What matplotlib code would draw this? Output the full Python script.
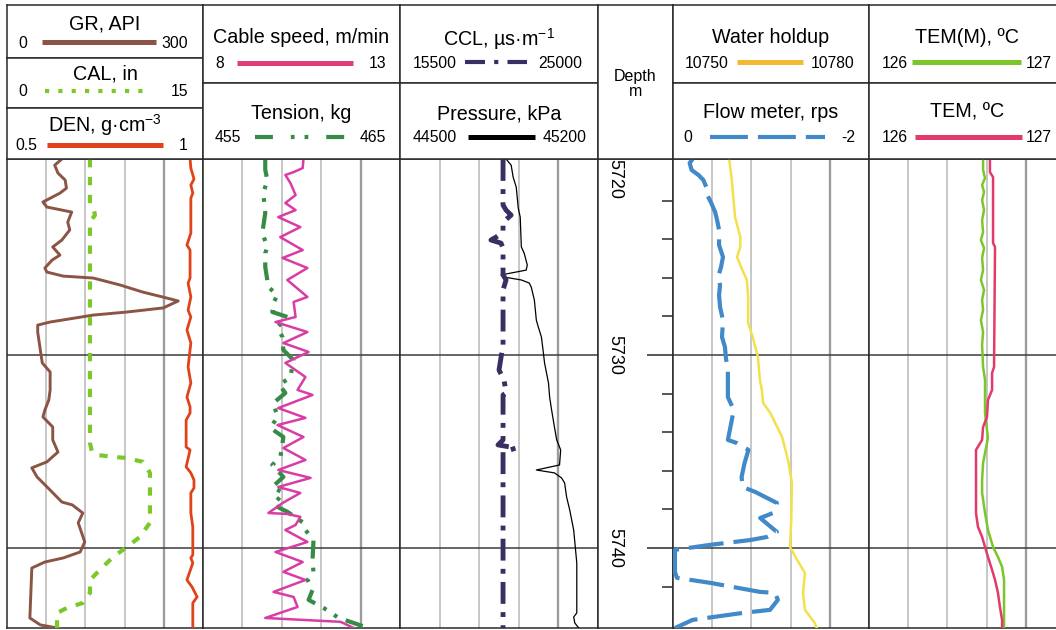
import matplotlib.pyplot as plt

plt.rcParams['font.family'] = ['Liberation Sans', 'DejaVu Sans']
plt.rcParams['mathtext.default'] = 'regular'

# ---- log data (depth in m) ----
gr_depth = [5719.84, 5720.16, 5720.57, 5720.93, 5721.35, 5721.61, 5722.07, 5722.33, 5722.59, 5723.11,
            5723.52, 5724.04, 5724.40, 5724.82, 5725.08, 5725.49, 5725.70, 5725.91, 5726.01, 5726.37,
            5726.74, 5727.05, 5727.20, 5727.56, 5727.77, 5727.93, 5728.29, 5728.45, 5728.81, 5729.74,
            5730.41, 5730.88, 5731.81, 5732.33, 5732.85, 5733.21, 5733.73, 5734.40, 5735.03, 5735.54,
            5735.85, 5736.32, 5737.00, 5737.62, 5737.77, 5738.19, 5738.70, 5739.69, 5740.21, 5740.52,
            5740.73, 5741.04, 5743.63, 5743.99, 5744.15]
gr_val = [84, 73, 78, 89, 91, 81, 55, 61, 99, 93, 96, 84, 70, 81, 69, 58, 61, 86, 132, 173,
          208, 245, 262, 239, 184, 132, 66, 47, 47, 51, 54, 66, 66, 64, 58, 55, 70, 70, 78, 61,
          38, 46, 66, 84, 100, 116, 109, 119, 112, 86, 58, 38, 35, 51, 77]

cal_depth = [5719.84, 5722.23, 5722.49, 5722.75, 5723.11, 5734.56, 5735.03, 5735.18, 5735.28, 5735.34,
             5735.54, 5736.11, 5738.70, 5738.91, 5739.43, 5739.95, 5740.47, 5741.14, 5741.66, 5742.33,
             5742.85, 5743.11, 5743.37, 5744.15]
cal_val = [6.35, 6.35, 6.66, 6.73, 6.35, 6.35, 6.50, 6.89, 8.11, 9.18, 10.40, 10.94, 10.94, 10.71,
           10.17, 9.18, 8.11, 7.11, 6.35, 6.35, 5.81, 4.59, 3.83, 3.83]

den_depth = [5719.84, 5720.31, 5720.88, 5721.19, 5721.61, 5721.87, 5723.68, 5724.30, 5724.56, 5726.01,
             5726.27, 5726.99, 5727.67, 5728.03, 5728.70, 5729.38, 5730.62, 5731.45, 5732.18, 5732.69,
             5733.01, 5733.37, 5734.77, 5734.92, 5735.80, 5736.11, 5736.48, 5736.89, 5737.15, 5738.19,
             5738.91, 5740.36, 5740.52, 5740.78, 5741.66, 5742.02, 5742.54, 5742.85, 5744.15]
den_val = [0.967, 0.969, 0.977, 0.969, 0.974, 0.969, 0.969, 0.959, 0.967, 0.967,
           0.962, 0.969, 0.962, 0.969, 0.959, 0.969, 0.962, 0.969, 0.959, 0.967,
           0.967, 0.957, 0.957, 0.967, 0.957, 0.969, 0.977, 0.977, 0.969, 0.969,
           0.974, 0.974, 0.969, 0.974, 0.959, 0.972, 0.985, 0.974, 0.974]

speed_depth = [5719.84, 5720.31, 5720.52, 5720.67, 5721.09, 5721.71, 5722.12, 5722.49, 5722.85, 5723.37,
               5723.89, 5724.56, 5724.97, 5725.49, 5726.11, 5726.99, 5727.25, 5728.03, 5728.29, 5728.81,
               5729.38, 5729.84, 5730.41, 5731.14, 5731.81, 5732.07, 5732.75, 5733.26, 5733.63, 5734.25,
               5734.82, 5735.44, 5735.96, 5736.37, 5736.84, 5737.15, 5737.67, 5738.19, 5738.24, 5738.39,
               5738.81, 5739.07, 5739.69, 5740.21, 5740.73, 5741.24, 5741.66, 5742.28, 5742.54, 5743.06,
               5743.63, 5743.83, 5744.15]
speed_val = [10.55, 10.53, 10.30, 10.09, 10.22, 10.35, 10.09, 10.35, 9.91, 10.47,
             9.96, 10.53, 10.02, 10.65, 10.14, 10.65, 10.30, 10.35, 9.84, 10.65,
             10.04, 10.68, 10.09, 10.60, 10.40, 10.78, 9.91, 10.60, 9.89, 10.55,
             10.04, 10.60, 9.91, 10.73, 9.91, 10.47, 10.02, 9.66, 10.14, 10.47,
             10.35, 10.09, 10.65, 9.84, 10.53, 10.04, 10.60, 9.79, 10.30, 10.40,
             9.58, 11.49, 11.83]

tension_depth = [5719.84, 5720.41, 5720.93, 5721.61, 5722.64, 5723.68, 5724.40, 5724.72, 5725.44, 5726.48,
                 5726.89, 5727.31, 5727.77, 5728.03, 5728.55, 5729.07, 5729.74, 5730.26, 5731.14, 5731.55,
                 5731.97, 5732.49, 5733.21, 5733.78, 5734.25, 5735.28, 5735.70, 5736.32, 5736.84, 5737.15,
                 5737.77, 5738.13, 5738.70, 5739.07, 5739.59, 5740.62, 5741.30, 5741.66, 5742.18, 5742.69,
                 5743.11, 5743.63, 5743.89, 5744.15]
tension_val = [458.16, 458.16, 458.27, 458.06, 458.16, 458.01, 458.27, 458.16, 458.16, 458.32,
               458.78, 458.57, 458.52, 459.29, 458.78, 459.03, 459.08, 459.59, 459.44, 458.88,
               459.18, 458.57, 458.78, 458.42, 459.08, 458.93, 458.52, 459.08, 458.52, 459.08,
               458.57, 459.29, 460.10, 460.20, 460.61, 460.56, 460.61, 460.31, 460.56, 460.36,
               461.12, 461.89, 462.65, 463.37]

ccl_depth = [5719.84, 5722.23, 5722.49, 5722.75, 5723.11, 5723.63, 5723.89, 5724.04, 5724.20, 5724.46,
             5725.85, 5726.11, 5726.63, 5729.48, 5730.78, 5731.30, 5731.97, 5732.07, 5734.40, 5734.66,
             5734.82, 5735.03, 5744.15]
ccl_val = [20444, 20444, 20590, 20832, 20444, 20444, 20105, 19862, 20347, 20444,
           20444, 20590, 20444, 20444, 20250, 20493, 20590, 20444, 20444, 20202,
           21074, 20444, 20444]

pres_depth = [5719.84, 5720.16, 5720.78, 5721.30, 5722.38, 5722.85, 5724.40, 5724.72, 5725.34, 5725.60,
              5725.85, 5725.96, 5726.11, 5726.27, 5726.48, 5727.15, 5728.19, 5728.55, 5729.07, 5729.90,
              5730.41, 5731.45, 5732.18, 5732.85, 5733.73, 5734.40, 5734.92, 5735.70, 5735.96, 5736.11,
              5736.37, 5736.63, 5737.36, 5738.03, 5739.07, 5740.78, 5743.37, 5743.58, 5743.89, 5744.15]
pres_val = [44875, 44893, 44900, 44911, 44918, 44925, 44929, 44939, 44950, 44946,
            44857, 44868, 44929, 44957, 44964, 44975, 44982, 44989, 45000, 45007,
            45011, 45025, 45029, 45036, 45046, 45054, 45068, 45064, 44982, 45046,
            45071, 45082, 45089, 45100, 45114, 45125, 45125, 45114, 45118, 45132]

holdup_depth = [5719.84, 5720.93, 5722.85, 5723.89, 5724.40, 5724.92, 5725.34, 5726.11, 5726.99, 5728.34,
                5729.07, 5730.10, 5731.30, 5731.81, 5732.49, 5733.01, 5734.25, 5735.44, 5736.63, 5738.55,
                5739.95, 5740.62, 5741.30, 5742.33, 5743.21, 5743.89, 5744.15]
holdup_val = [10758.6, 10759.0, 10759.5, 10760.3, 10760.3, 10759.8, 10760.3, 10761.3, 10761.5, 10761.5,
              10762.2, 10763.0, 10763.3, 10763.6, 10763.8, 10764.9, 10766.7, 10767.6, 10768.2, 10768.1,
              10767.9, 10769.0, 10770.2, 10769.9, 10770.2, 10771.7, 10772.0]

flow_depth = [5719.84, 5720.05, 5720.41, 5720.67, 5720.93, 5721.30, 5721.61, 5722.12, 5722.59, 5723.01,
              5723.52, 5724.30, 5724.92, 5725.44, 5725.96, 5726.37, 5726.89, 5727.51, 5728.19, 5729.07,
              5729.59, 5730.16, 5730.78, 5731.81, 5732.18, 5732.85, 5733.37, 5733.89, 5734.40, 5734.56,
              5734.92, 5735.60, 5736.32, 5736.84, 5737.10, 5737.67, 5738.19, 5738.45, 5739.17, 5739.43,
              5739.59, 5739.84, 5740.10, 5740.62, 5741.24, 5741.55, 5741.81, 5742.28, 5742.33, 5742.69,
              5743.21, 5743.37, 5743.73, 5744.15]
flow_val = [-0.20, -0.17, -0.19, -0.26, -0.31, -0.34, -0.34, -0.39, -0.43, -0.45,
            -0.47, -0.47, -0.51, -0.49, -0.46, -0.48, -0.47, -0.48, -0.51, -0.50,
            -0.53, -0.54, -0.56, -0.56, -0.56, -0.62, -0.60, -0.58, -0.56, -0.65,
            -0.77, -0.73, -0.70, -0.71, -0.84, -1.06, -1.02, -0.89, -1.06, -0.96,
            -0.79, -0.38, -0.02, -0.02, -0.02, -0.04, -0.38, -0.89, -1.04, -1.07,
            -0.99, -0.71, -0.20, -0.02]

temm_depth = [5719.84, 5720.41, 5720.83, 5721.19, 5721.55, 5721.97, 5722.49, 5723.01, 5723.63, 5724.04,
              5724.46, 5724.97, 5725.60, 5726.11, 5726.63, 5727.15, 5727.67, 5728.19, 5728.81, 5729.48,
              5730.62, 5731.30, 5733.01, 5734.30, 5735.60, 5736.48, 5737.15, 5738.19, 5739.07, 5739.95,
              5740.47, 5740.98, 5741.66, 5744.15]
temm_val = [126.582, 126.582, 126.592, 126.577, 126.587, 126.577, 126.587, 126.577, 126.582, 126.571,
            126.587, 126.577, 126.582, 126.571, 126.587, 126.577, 126.582, 126.571, 126.582, 126.577,
            126.582, 126.592, 126.592, 126.607, 126.582, 126.577, 126.577, 126.592, 126.607, 126.633,
            126.658, 126.679, 126.689, 126.689]

tem_depth = [5719.84, 5720.52, 5720.78, 5724.20, 5724.40, 5730.62, 5730.93, 5731.81, 5732.33, 5733.21,
             5733.73, 5734.40, 5734.92, 5738.19, 5738.91, 5739.43, 5739.95, 5740.47, 5741.14, 5741.66,
             5742.33, 5743.06, 5743.73, 5744.15]
tem_val = [126.617, 126.617, 126.633, 126.633, 126.643, 126.638, 126.628, 126.628, 126.607, 126.602,
           126.582, 126.577, 126.546, 126.546, 126.556, 126.577, 126.592, 126.607, 126.628, 126.643,
           126.658, 126.668, 126.679, 126.679]

depth_labels = [5720, 5730, 5740]

# ---- layout (pixels) ----
W, H = 1056, 630
TOP, HEAD_BOT, BOT = 5, 159, 628
D_TOP, D_BOT = 5719.84, 5744.15
EDGE = '#2a2a2a'

fig = plt.figure(figsize=(W / 100, H / 100), dpi=100)


def rect(x, y, w, h):
    return [x / W, 1 - (y + h) / H, w / W, h / H]


def frame(ax):
    for s in ax.spines.values():
        s.set_color(EDGE)
        s.set_linewidth(1.1)


def track(x, w):
    ax = fig.add_axes(rect(x, HEAD_BOT, w, BOT - HEAD_BOT))
    ax.set_xlim(0, 1)
    ax.set_ylim(D_BOT, D_TOP)
    ax.set_xticks([0.2, 0.4, 0.6, 0.8])
    ax.set_yticks([5730, 5740])
    ax.tick_params(length=0, labelbottom=False, labelleft=False)
    ax.grid(True, axis='x', color='#b8b8b8', lw=1.1)
    ax.grid(True, axis='y', color='#3c3c3c', lw=1.1)
    ax.get_xgridlines()[-1].set_color('#9c9c9c')
    ax.get_xgridlines()[-1].set_linewidth(1.7)
    frame(ax)
    return ax


def curve(ax, vals, depth, lim, color, lw, ls='-'):
    c = ax.twiny()
    c.set_xlim(*lim)
    c.plot(vals, depth, color=color, lw=lw, linestyle=ls,
           solid_joinstyle='round', dash_capstyle='butt')
    c.xaxis.set_visible(False)
    for s in c.spines.values():
        s.set_visible(False)
    return c


def header(x, w, y0, y1, title, base_y, leg_y, left, right, lx, style, lab_x=None):
    ax = fig.add_axes(rect(x, y0, w, y1 - y0))
    ax.set_xlim(x, x + w)
    ax.set_ylim(y1, y0)
    ax.set_xticks([])
    ax.set_yticks([])
    frame(ax)
    ax.text(x + w / 2, base_y, title, ha='center', va='baseline', fontsize=14.2)
    lx0, rx1 = lab_x if lab_x else (x + 12, x + 183)
    ax.text(lx0, leg_y + 5.5, left, ha='left', va='baseline', fontsize=11.3)
    ax.text(rx1, leg_y + 5.5, right, ha='right', va='baseline', fontsize=11.3)
    ax.plot(lx, [leg_y, leg_y], dash_capstyle='butt', solid_capstyle='butt', **style)


# styles
c_gr, c_cal, c_den = '#8b5444', '#7cc82a', '#e0431a'
c_speed, c_ten = '#d93da5', '#378c45'
c_ccl = '#3b2e62'
c_hold, c_flow = '#f2e14c', '#4189c9'
c_temm, c_tem = '#7bc62a', '#e23a6a'

# ---- track 1: GR / CAL / DEN ----
t1 = track(7, 196)
curve(t1, gr_val, gr_depth, (0, 300), c_gr, 2.1)
curve(t1, cal_val, cal_depth, (0, 15), c_cal, 3.0, (0, (2.0, 2.3)))
curve(t1, den_val, den_depth, (0.5, 1), c_den, 2.0)
header(7, 196, TOP, 58, 'GR, API', 29, 42, '0', '300', [42, 156],
       dict(color=c_gr, lw=3.6), (18, 188))
header(7, 196, 58, 108, 'CAL, in', 80, 91, '0', '15', [45, 150],
       dict(color=c_cal, lw=3.0, linestyle=(0, (1.0, 2.2))), (18, 188))
header(7, 196, 108, HEAD_BOT, 'DEN, g·cm$^{-3}$', 132, 145, '0.5', '1', [47, 163],
       dict(color=c_den, lw=3.6), (15, 188))

# ---- track 2: cable speed / tension ----
t2 = track(203, 197)
curve(t2, tension_val, tension_depth, (455, 465), c_ten, 3.0, (0, (4.3, 2.2, 0.9, 2.2, 0.9, 2.2)))
curve(t2, speed_val, speed_depth, (8, 13), c_speed, 1.8)
header(203, 197, TOP, 83, 'Cable speed, m/min', 43, 63, '8', '13', [237, 353],
       dict(color='#e03e7a', lw=3.6))
header(203, 197, 83, HEAD_BOT, 'Tension, kg', 119, 137, '455', '465', [255, 345],
       dict(color=c_ten, lw=3.0, linestyle=(0, (4.3, 4.3, 0.9, 2.4, 0.9, 4.3))))

# ---- track 3: CCL / pressure ----
t3 = track(400, 198)
curve(t3, pres_val, pres_depth, (44500, 45200), 'black', 0.9)
curve(t3, ccl_val, ccl_depth, (15500, 25000), c_ccl, 3.5, (0, (4.5, 1.7, 1.0, 1.7)))
header(400, 198, TOP, 83, 'CCL, µs·m$^{-1}$', 46, 62, '15500', '25000', [465, 527],
       dict(color=c_ccl, lw=3.0, linestyle=(0, (4.8, 2.2, 1.0, 2.2))), (413, 582))
header(400, 198, 83, HEAD_BOT, 'Pressure, kPa', 119, 137, '44500', '45200', [468, 535],
       dict(color='black', lw=3.6), (413, 587))

# ---- depth track ----
dep = fig.add_axes(rect(598, HEAD_BOT, 75, BOT - HEAD_BOT))
dep.set_xlim(0, 1)
dep.set_ylim(D_BOT, D_TOP)
dep.yaxis.tick_right()
dep.set_yticks([5730, 5740])
dep.set_yticks([5722, 5724, 5726, 5728, 5732, 5734, 5736, 5738, 5742], minor=True)
dep.tick_params(axis='y', which='major', direction='in', length=19, width=1.1, color=EDGE,
                labelright=False)
dep.tick_params(axis='y', which='minor', direction='in', length=8, width=1.1, color=EDGE)
dep.set_xticks([])
frame(dep)
ytr = dep.get_yaxis_transform()
for d in depth_labels:
    dep.text(0.23, D_TOP if d == depth_labels[0] else d, str(d), transform=ytr,
             rotation=-90, ha='center', va='top' if d == depth_labels[0] else 'center',
             fontsize=13)
dh = fig.add_axes(rect(598, TOP, 75, HEAD_BOT - TOP))
dh.set_xlim(0, 75)
dh.set_ylim(HEAD_BOT, TOP)
dh.set_xticks([])
dh.set_yticks([])
frame(dh)
dh.text(37.5, 81, 'Depth', ha='center', va='baseline', fontsize=11.5)
dh.text(37.5, 96, 'm', ha='center', va='baseline', fontsize=11.5)

# ---- track 5: water holdup / flow meter ----
t5 = track(673, 196)
curve(t5, holdup_val, holdup_depth, (10750, 10780), c_hold, 1.8)
curve(t5, flow_val, flow_depth, (0, -2), c_flow, 3.0, (0, (8.4, 2.4)))
header(673, 196, TOP, 83, 'Water holdup', 43, 62, '10750', '10780', [737, 803],
       dict(color='#f4b933', lw=3.6), (685, 855))
header(673, 196, 83, HEAD_BOT, 'Flow meter, rps', 118, 137, '0', '-2', [710, 825],
       dict(color=c_flow, lw=3.0, linestyle=(0, (9.1, 2.4))), (683, 855))

# ---- track 6: temperatures ----
t6 = track(869, 196)
curve(t6, temm_val, temm_depth, (126, 127), c_temm, 1.8)
curve(t6, tem_val, tem_depth, (126, 127), c_tem, 1.8)
header(869, 196, TOP, 83, 'TEM(M), ºC', 43, 62, '126', '127', [912, 1021],
       dict(color=c_temm, lw=3.6), (882, 1052))
header(869, 196, 83, HEAD_BOT, 'TEM, ºC', 118, 137, '126', '127', [915, 1022],
       dict(color=c_tem, lw=3.6), (882, 1052))

for a in (t1, t2, t3, t5, t6, dep):
    a.set_ylim(D_BOT, D_TOP)

fig.savefig('out.png', dpi=100)
